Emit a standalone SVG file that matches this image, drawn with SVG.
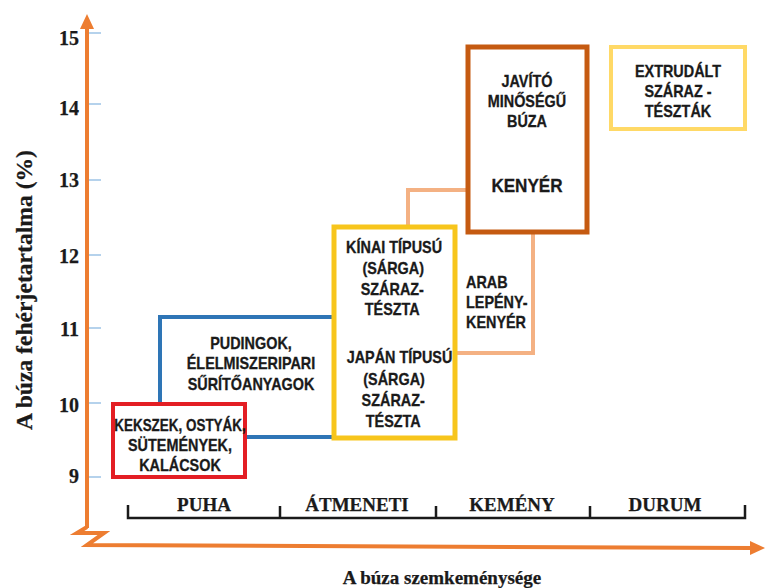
<svg xmlns="http://www.w3.org/2000/svg" width="766" height="588" viewBox="0 0 766 588">
<style>
.box{font-family:"Liberation Sans",Arial,sans-serif;font-weight:bold;font-size:16px;fill:#1a1a1a;stroke:#1a1a1a;stroke-width:0.3;text-anchor:middle}
.left{text-anchor:start}
.ax{font-family:"Liberation Serif","Times New Roman",serif;font-weight:bold;fill:#1a1a1a;stroke:#1a1a1a;stroke-width:0.25}
.tick{stroke:#9dc3e6;stroke-width:1.5}
.num{font-size:20px;text-anchor:end}
.cat{font-size:19px;text-anchor:middle}
</style>
<rect width="766" height="588" fill="#ffffff"/>
<g id="axes">
<path d="M87,528 L87,26" stroke="#ed7d31" stroke-width="4" fill="none"/>
<polygon points="87,14 80,29 94,29" fill="#ed7d31"/>
<path d="M87,527 L77,533 L104,533 L87,545 L752,548" stroke="#ed7d31" stroke-width="4" fill="none"/>
<polygon points="765,548 750,541 750,555" fill="#ed7d31"/>
<g class="tick">
<line x1="89" y1="33" x2="101" y2="33"/>
<line x1="89" y1="104" x2="101" y2="104"/>
<line x1="89" y1="180" x2="101" y2="180"/>
<line x1="89" y1="255" x2="101" y2="255"/>
<line x1="89" y1="328" x2="101" y2="328"/>
<line x1="89" y1="403" x2="101" y2="403"/>
<line x1="89" y1="477" x2="101" y2="477"/>
</g>
<g class="ax num">
<text x="79" y="45">15</text>
<text x="79" y="115">14</text>
<text x="79" y="187">13</text>
<text x="79" y="263">12</text>
<text x="79" y="336">11</text>
<text x="79" y="412">10</text>
<text x="79" y="483">9</text>
</g>
<text class="ax" font-size="23" text-anchor="middle" transform="translate(32,290) rotate(-90)" textLength="280" lengthAdjust="spacingAndGlyphs">A búza fehérjetartalma (%)</text>
<path d="M128,505 L128,518 L745,518 L745,505 M280,506 L280,518 M436,506 L436,518 M590,506 L590,518" stroke="#1a1a1a" stroke-width="2.5" fill="none"/>
<g class="ax cat">
<text x="204" y="511">PUHA</text>
<text x="357" y="511">ÁTMENETI</text>
<text x="512" y="511">KEMÉNY</text>
<text x="665" y="511">DURUM</text>
</g>
<text class="ax" font-size="19" text-anchor="middle" x="442" y="584">A búza szemkeménysége</text>
</g>
<g id="connectors"></g>
<g id="pudingok">
<path d="M160,404 L160,317 L334,317 M245,437 L334,437" stroke="#2e75b6" stroke-width="4" fill="none"/>
<g transform="matrix(0.9 0 0 1 25.1 0)">
<text class="box" x="251" y="349">PUDINGOK,</text>
<text class="box" x="251" y="369">ÉLELMISZERIPARI</text>
<text class="box" x="251" y="390">SŰRÍTŐANYAGOK</text>
</g>
</g>
<g id="arab">
<path d="M408,227 L408,190 L468,190 M533,232 L533,353 L455,353" stroke="#f4b183" stroke-width="4" fill="none"/>
<g transform="matrix(0.9 0 0 1 46.6 0)">
<text class="box left" x="466" y="288">ARAB</text>
<text class="box left" x="466" y="308">LEPÉNY-</text>
<text class="box left" x="466" y="328">KENYÉR</text>
</g>
</g>
<g id="kekszek">
<rect x="113" y="404" width="132" height="73" fill="#ffffff" stroke="#e31e24" stroke-width="4"/>
<g transform="matrix(0.9 0 0 1 18 0)">
<text class="box" x="180" y="431" textLength="146" lengthAdjust="spacingAndGlyphs">KEKSZEK, OSTYÁK,</text>
<text class="box" x="180" y="451">SÜTEMÉNYEK,</text>
<text class="box" x="180" y="471">KALÁCSOK</text>
</g>
</g>
<g id="teszta">
<rect x="334" y="227" width="121" height="211" fill="none" stroke="#f7c51c" stroke-width="5"/>
<g transform="matrix(0.9 0 0 1 39.5 0)">
<text class="box" x="394" y="253">KÍNAI TÍPUSÚ</text>
<text class="box" x="393" y="274">(SÁRGA)</text>
<text class="box" x="392" y="295">SZÁRAZ-</text>
<text class="box" x="392" y="315">TÉSZTA</text>
<text class="box" x="400" y="363">JAPÁN TÍPUSÚ</text>
<text class="box" x="394" y="385">(SÁRGA)</text>
<text class="box" x="393" y="406">SZÁRAZ-</text>
<text class="box" x="393" y="427">TÉSZTA</text>
</g>
</g>
<g id="kenyer">
<rect x="468" y="47" width="119" height="185" fill="#ffffff" stroke="#c55a11" stroke-width="5"/>
<g transform="matrix(0.9 0 0 1 52.7 0)">
<text class="box" x="527" y="87">JAVÍTÓ</text>
<text class="box" x="527" y="107">MINŐSÉGŰ</text>
<text class="box" x="527" y="127">BÚZA</text>
<text class="box" x="527" y="192" style="font-size:19px">KENYÉR</text>
</g>
</g>
<g id="extrudalt">
<rect x="611" y="47" width="134" height="82" fill="#ffffff" stroke="#ffd966" stroke-width="4"/>
<g transform="matrix(0.9 0 0 1 67.8 0)">
<text class="box" x="678" y="77">EXTRUDÁLT</text>
<text class="box" x="678" y="97">SZÁRAZ -</text>
<text class="box" x="678" y="117">TÉSZTÁK</text>
</g>
</g>
</svg>
